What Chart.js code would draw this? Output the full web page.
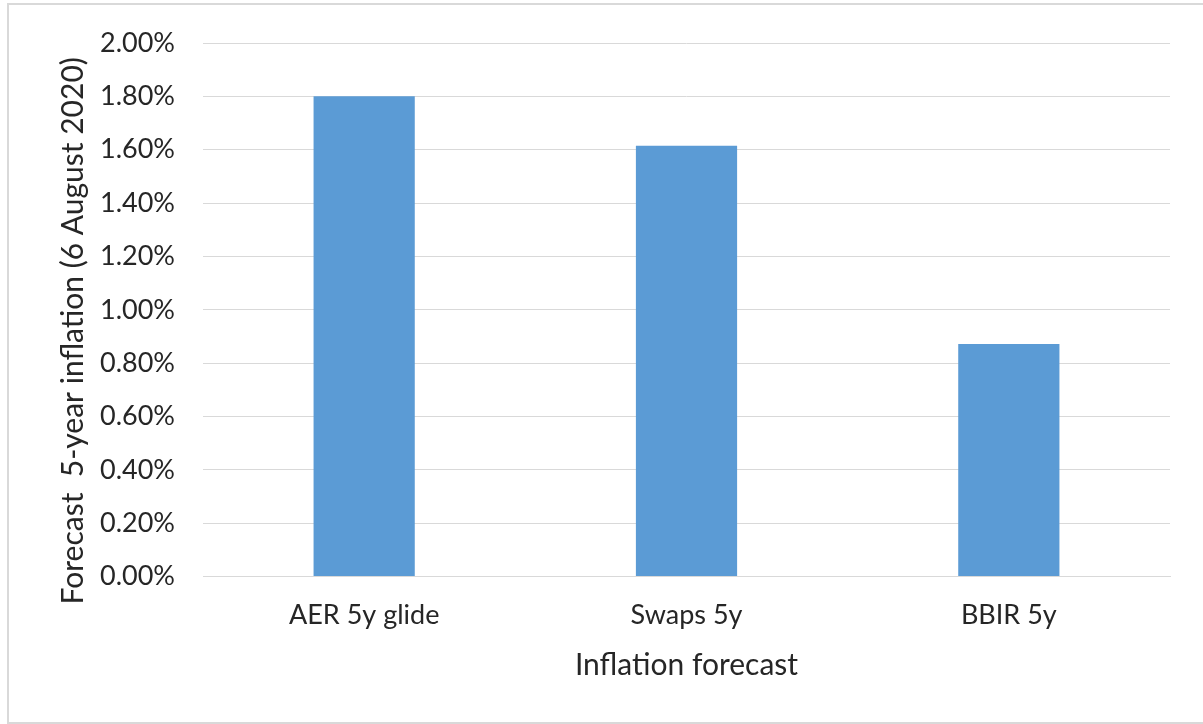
<!DOCTYPE html>
<html>
<head>
<meta charset="utf-8">
<script src="https://cdn.jsdelivr.net/npm/chart.js@4"></script>
<style>
  html, body { margin: 0; padding: 0; background: #ffffff; overflow: hidden; }
  #frame {
    position: absolute; left: 7px; top: 3px; width: 1210px; height: 717px;
    border: 2px solid #d9d9d9; background: #ffffff;
  }
  #wrap { position: absolute; left: 0; top: 0; width: 1203px; height: 724px; }
</style>
</head>
<body>
<div id="frame"></div>
<div id="wrap"><canvas id="c" width="1203" height="724"></canvas></div>
<script>
const categories = ['AER 5y glide', 'Swaps 5y', 'BBIR 5y'];
const forecastValues = [1.80, 1.615, 0.872];
const yTickValues = [0, 0.2, 0.4, 0.6, 0.8, 1.0, 1.2, 1.4, 1.6, 1.8, 2.0];
const yAxisTitle = 'Forecast  5-year inflation (6 August 2020)';
const xAxisTitle = 'Inflation forecast';

const textColor = '#262626';
const fontFamily = 'Lato, "Open Sans", sans-serif';

// Vertical axis title, set slightly below the middle of the plot area
const yTitlePlugin = {
  id: 'yTitle',
  afterDraw(chart) {
    const ctx = chart.ctx;
    const area = chart.chartArea;
    const x = chart.scales.y.left + 18;
    const y = (area.top + area.bottom) / 2 + 21;
    ctx.save();
    ctx.translate(x, y);
    ctx.rotate(-Math.PI / 2);
    ctx.font = '30px ' + fontFamily;
    ctx.fillStyle = textColor;
    ctx.textAlign = 'center';
    ctx.textBaseline = 'middle';
    ctx.fillText(yAxisTitle, 0, 0);
    ctx.restore();
  }
};

new Chart(document.getElementById('c'), {
  type: 'bar',
  data: {
    labels: categories,
    datasets: [{
      data: forecastValues,
      backgroundColor: '#5b9bd5',
      borderWidth: 0,
      categoryPercentage: 1.0,
      barPercentage: 0.314
    }]
  },
  plugins: [yTitlePlugin],
  options: {
    responsive: false,
    animation: false,
    devicePixelRatio: 1,
    layout: { padding: { left: 55, right: 33, top: 43, bottom: 47 } },
    plugins: { legend: { display: false }, tooltip: { enabled: false } },
    scales: {
      x: {
        grid: { display: false, drawTicks: false },
        border: { display: true, color: '#d9d9d9', width: 1 },
        ticks: { color: textColor, font: { family: fontFamily, size: 27 }, padding: 22 },
        title: {
          display: true, text: xAxisTitle, color: textColor,
          font: { family: fontFamily, size: 30, lineHeight: 0.8 }, padding: { top: 0, bottom: 0 }
        }
      },
      y: {
        min: 0, max: 2.0,
        afterBuildTicks: (axis) => { axis.ticks = yTickValues.map(v => ({ value: v })); },
        afterFit: (axis) => { axis.width = 148; axis.paddingTop = 0; axis.paddingBottom = 0; },
        grid: { color: '#d9d9d9', lineWidth: 1, drawTicks: false },
        border: { display: false },
        ticks: {
          color: textColor, font: { family: fontFamily, size: 27, lineHeight: 1.0 }, padding: 28,
          callback: (v) => v.toFixed(2) + '%'
        },
        title: { display: false }
      }
    }
  }
});
</script>
</body>
</html>
